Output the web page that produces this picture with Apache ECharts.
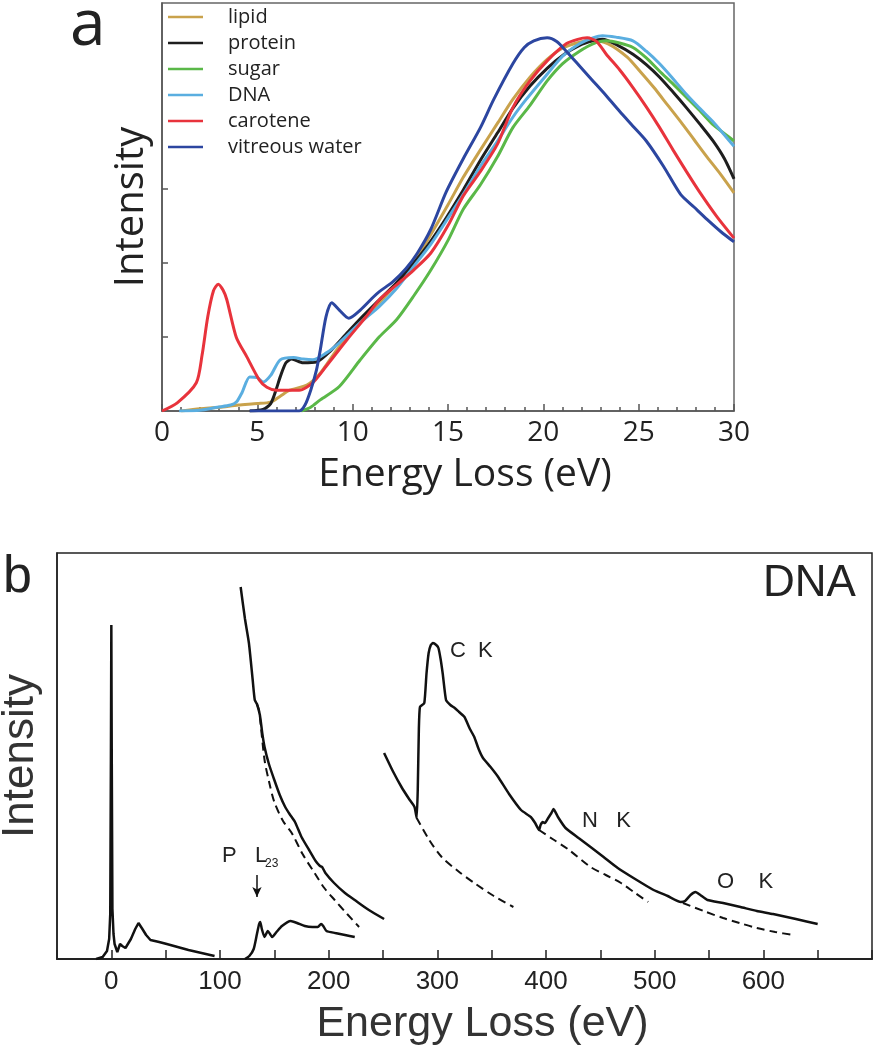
<!DOCTYPE html>
<html>
<head>
<meta charset="utf-8">
<script src="https://cdn.jsdelivr.net/npm/echarts@6/dist/echarts.min.js"></script>
<style>
  html, body { margin: 0; padding: 0; background: #fff; }
  #chart { width: 882px; height: 1050px; }
</style>
</head>
<body>
<div id="chart"></div>
<script>
var myChart = echarts.init(document.getElementById('chart'));

// panel a: low-loss spectra, [energy eV, intensity (tick units)]
var names = ['lipid', 'protein', 'sugar', 'DNA', 'carotene', 'vitreous water'];
var colorsA = ['#c9a24c', '#1e1e1e', '#5ab848', '#5aaee0', '#e8333c', '#2c46a0'];
var lipid = [[1,0],[2,0.03],[3,0.05],[4,0.08],[5,0.1],[5.7,0.12],[6.2,0.2],[6.7,0.28],[7.6,0.35],[8.3,0.51],[9.3,0.87],[10.4,1.19],[11.4,1.46],[12.3,1.72],[13.2,2.0],[14.1,2.38],[15,2.78],[15.8,3.15],[16.7,3.52],[17.6,3.88],[18.4,4.2],[19.3,4.5],[20.2,4.74],[21,4.89],[21.9,4.97],[22.6,5.0],[23.4,4.95],[24.4,4.77],[25.1,4.57],[25.8,4.36],[26.5,4.13],[27.2,3.9],[27.9,3.66],[28.6,3.42],[29.3,3.19],[30,2.94]];
var protein = [[4.6,0],[5.3,0.02],[5.7,0.1],[6.0,0.3],[6.2,0.46],[6.5,0.65],[6.8,0.7],[7.4,0.65],[8.1,0.66],[8.8,0.8],[9.7,1.05],[10.5,1.27],[11.4,1.5],[12.3,1.73],[13.7,2.15],[14.7,2.52],[15.8,2.98],[16.7,3.38],[17.6,3.75],[18.4,4.08],[19.3,4.38],[20.2,4.62],[21.1,4.81],[21.9,4.93],[22.6,4.99],[23.1,5.01],[23.9,4.93],[24.7,4.81],[25.4,4.67],[26.1,4.5],[26.8,4.3],[27.5,4.09],[28.2,3.87],[28.9,3.64],[29.5,3.4],[30,3.13]];
var sugar = [[7.3,0],[7.8,0.05],[8.3,0.15],[9.3,0.33],[10.4,0.69],[11.4,1.0],[12.3,1.23],[13.2,1.55],[14.1,1.9],[15,2.3],[15.8,2.72],[16.7,3.05],[17.6,3.43],[18.4,3.82],[19.3,4.12],[20.2,4.45],[21,4.68],[21.9,4.85],[22.6,4.95],[23.3,4.99],[24,4.96],[24.7,4.9],[25.4,4.76],[26.1,4.58],[26.8,4.41],[27.5,4.23],[28.2,4.05],[28.9,3.86],[29.5,3.74],[30,3.64]];
var dna = [[0.9,0],[2,0.01],[2.9,0.05],[3.6,0.08],[3.9,0.12],[4.2,0.25],[4.6,0.46],[5.0,0.45],[5.3,0.39],[5.7,0.48],[6.2,0.69],[6.9,0.72],[7.4,0.7],[7.9,0.69],[8.6,0.78],[9.3,0.92],[10.4,1.19],[11.4,1.41],[12.3,1.65],[13.2,1.95],[14.1,2.25],[15,2.6],[15.8,2.92],[16.7,3.3],[17.5,3.6],[18.4,3.96],[19.1,4.2],[20.2,4.54],[21,4.78],[21.9,4.95],[22.6,5.03],[23.1,5.06],[23.8,5.04],[24.7,4.99],[25.4,4.85],[26.1,4.68],[26.8,4.48],[27.5,4.27],[28.2,4.08],[28.9,3.9],[29.5,3.72],[30,3.57]];
var carotene = [[0,0],[0.8,0.11],[1.8,0.38],[2.1,0.75],[2.4,1.27],[2.7,1.62],[2.95,1.71],[3.2,1.63],[3.4,1.5],[3.9,0.99],[4.45,0.73],[5.1,0.42],[5.5,0.32],[6,0.28],[7.2,0.28],[7.9,0.38],[8.6,0.6],[9.7,0.96],[10.7,1.27],[11.4,1.5],[12.3,1.7],[13.2,1.9],[14.1,2.13],[15,2.5],[15.8,2.9],[16.7,3.23],[17.6,3.6],[18.4,4.09],[19.3,4.45],[20.2,4.72],[21.2,4.95],[21.8,5.01],[22.3,5.03],[22.8,4.98],[23.3,4.81],[24,4.6],[24.7,4.36],[25.4,4.1],[26.1,3.82],[26.8,3.52],[27.5,3.23],[28.2,2.95],[29.1,2.62],[30,2.33]];
var water = [[4.6,0],[6,0],[7.2,0],[7.5,0.08],[7.8,0.28],[8.1,0.55],[8.3,0.82],[8.6,1.27],[8.9,1.46],[9.3,1.36],[9.8,1.25],[10.4,1.36],[11.1,1.54],[11.4,1.61],[12.1,1.74],[12.8,1.92],[13.4,2.13],[14.1,2.45],[14.9,2.95],[15.8,3.4],[16.7,3.82],[17.4,4.2],[18.4,4.68],[19.0,4.9],[19.5,4.99],[20.2,5.03],[20.7,4.98],[21.2,4.85],[21.9,4.65],[22.6,4.45],[23.3,4.25],[24.0,4.04],[24.7,3.84],[25.4,3.64],[26.3,3.3],[27.2,2.92],[27.9,2.75],[28.6,2.58],[29.3,2.42],[30,2.28]];
var seriesA = [lipid, protein, sugar, dna, carotene, water];

// panel b: DNA core-loss spectrum, [energy eV, intensity]
var lowLoss = [[-14,0],[-8,2],[-4,8],[-2,20],[-1,45],[-0.4,200],[0,334],[0.4,200],[1,50],[2,25],[3,15],[5.5,7],[8,15],[10,13],[13,11],[18,20],[22,30],[25,36],[28,31],[32,24],[36,19],[44,17],[51,15],[61,12],[71,9],[83,6],[95,3]];
var pEdge = [[123,0],[127,3],[131,10],[134,25],[136,35],[137,37],[138.5,30],[141,22],[144,28],[146,25],[148,22],[152,27],[157,33],[165,38],[171,36],[178,33],[185,32],[190,32],[193,35],[195,33],[198,28],[206,26],[215,24],[224,22]];
var pUpper = [[119,372],[123,340],[126.6,316],[130,280],[132,259],[134,255],[136.7,244],[139,225],[141,212],[145,195],[150,179],[155,164],[160,152],[164,145],[169,137],[175,122],[182,109],[188,98],[192,93],[194,92],[197,86],[205,76],[215,66],[224,59],[237,49],[251,40]];
var pBg = [[134,255],[136,248],[141,199],[145,178],[150,157],[158,138],[166,126],[176,105],[187,86],[196,71],[205.5,59],[217,45],[228,32]];
var ckSpec = [[251,206],[259,188],[267,172],[274,160],[279,152],[281,141],[282,170],[283,230],[284,252],[288,256],[290,285],[292,306],[294,314],[296,316],[299,314],[301,311],[303,300],[305,285],[308,259],[312,254],[316,251],[320,247],[325,242],[330,230],[334,222],[338,210],[342,201],[349,192],[356,182],[366,165],[377,149],[386,142],[390,136],[393.6,129],[395,134],[397,137],[399,136],[402,141],[405,146],[407,150],[411,142],[418,131],[430,121],[441,112],[453,102],[466,91],[482,80],[499,69],[512,63],[524,57],[528,58],[533,64],[537.6,67],[542,64],[548.6,59],[563,56],[579,52],[594,48],[609,45],[630,40],[650,35]];
var cBg = [[281,141],[292,120],[304,102],[319,88],[334,76],[352,63],[370,52]];
var nBg = [[393.6,129],[406,120],[420,110],[441,92],[455,84],[469,76],[482,66],[494,57]];
var oBg = [[526,56],[545,48],[563,41],[578,36],[594,31],[611,27],[628,24]];
var bLabels = [0, 100, 200, 300, 400, 500, 600];

var fontA = 'Open Sans';
var fontB = 'Liberation Sans';

var series = seriesA.map(function (d, i) {
    return {
        name: names[i],
        type: 'line',
        xAxisIndex: 0,
        yAxisIndex: 0,
        data: d,
        symbol: 'none',
        smooth: 0.25,
        lineStyle: { color: colorsA[i], width: 3 },
        itemStyle: { color: colorsA[i] },
        silent: true
    };
});

function solidB(d, smooth) {
    return {
        type: 'line', xAxisIndex: 1, yAxisIndex: 1, data: d, symbol: 'none',
        smooth: smooth, silent: true,
        lineStyle: { color: '#111', width: 2.5 }
    };
}
function dashedB(d) {
    return {
        type: 'line', xAxisIndex: 1, yAxisIndex: 1, data: d, symbol: 'none',
        smooth: 0.3, silent: true,
        lineStyle: { color: '#111', width: 2, type: [8, 5] }
    };
}
series.push(solidB(lowLoss, false));
var pEdgeSeries = solidB(pEdge, 0.2);
pEdgeSeries.markLine = {
    silent: true,
    symbol: ['none', 'arrow'],
    symbolSize: [7, 10],
    label: { show: false },
    lineStyle: { color: '#111', width: 1.5, type: 'solid' },
    data: [[{ coord: [134, 84] }, { coord: [134, 62] }]]
};
series.push(pEdgeSeries);
series.push(solidB(pUpper, 0.2));
series.push(solidB(ckSpec, 0.15));
series.push(dashedB(pBg));
series.push(dashedB(cBg));
series.push(dashedB(nBg));
series.push(dashedB(oBg));

var option = {
    backgroundColor: '#fff',
    animation: false,
    legend: {
        orient: 'vertical',
        left: 163,
        top: 2,
        icon: 'rect',
        itemWidth: 35,
        itemHeight: 2.5,
        itemGap: 6,
        data: names,
        textStyle: { fontFamily: fontA, fontSize: 20, color: '#222', padding: [0, 0, 0, 20] }
    },
    grid: [{
        left: 162, right: 148, top: 3, bottom: 639, outerBoundsMode: 'none',
        show: true, borderColor: '#666', borderWidth: 1.5
    }, {
        left: 57, right: 10, top: 553, bottom: 91, outerBoundsMode: 'none',
        show: true, borderColor: '#222', borderWidth: 1.5
    }],
    xAxis: [{
        gridIndex: 0, type: 'value', min: 0, max: 30, interval: 5,
        axisLine: { lineStyle: { color: '#555', width: 1.5 } },
        axisTick: { inside: true, length: 7, lineStyle: { color: '#555', width: 1.5 } },
        minorTick: { show: true, splitNumber: 5, length: 4, lineStyle: { color: '#555', width: 1.5 } },
        splitLine: { show: false },
        axisLabel: { fontFamily: fontA, fontSize: 28, color: '#222', margin: 8 },
        name: 'Energy Loss (eV)', nameLocation: 'middle', nameGap: 44,
        nameTextStyle: { fontFamily: fontA, fontSize: 39, color: '#222', padding: [0, 0, 0, 34] }
    }, {
        gridIndex: 1, type: 'value', min: -50, max: 700, interval: 50,
        axisLine: { onZero: false, lineStyle: { color: '#222', width: 2 } },
        axisTick: { inside: true, length: 9, lineStyle: { color: '#222', width: 1.5 } },
        splitLine: { show: false },
        axisLabel: {
            fontFamily: fontB, fontSize: 26, color: '#222', margin: 10,
            formatter: function (v) { return bLabels.indexOf(v) >= 0 ? String(v) : ''; }
        },
        name: 'Energy Loss (eV)', nameLocation: 'middle', nameGap: 44,
        nameTextStyle: { fontFamily: fontB, fontSize: 43, color: '#333', padding: [0, 0, 0, 36] }
    }],
    yAxis: [{
        gridIndex: 0, type: 'value', min: 0, max: 5.5, interval: 1,
        axisLine: { show: true, onZero: false, lineStyle: { color: '#555', width: 1.5 } },
        axisTick: { show: true, inside: true, length: 6, customValues: [1, 2, 3], lineStyle: { color: '#555', width: 1.5 } },
        splitLine: { show: false },
        axisLabel: { show: false },
        name: 'Intensity', nameLocation: 'middle', nameGap: 10,
        nameTextStyle: { fontFamily: fontA, fontSize: 40, color: '#222' }
    }, {
        gridIndex: 1, type: 'value', min: 0, max: 406,
        axisLine: { show: true, onZero: false, lineStyle: { color: '#222', width: 1.5 } },
        axisTick: { show: false },
        splitLine: { show: false },
        axisLabel: { show: false },
        name: 'Intensity', nameLocation: 'middle', nameGap: 14,
        nameTextStyle: { fontFamily: fontB, fontSize: 44, color: '#333' }
    }],
    graphic: [
        { type: 'text', left: 70, top: -5, style: { text: 'a', font: '64px "Open Sans"', fill: '#222' } },
        { type: 'text', left: 3, top: 552, style: { text: 'b', font: '52px "Liberation Sans"', fill: '#222' } },
        { type: 'text', left: 763, top: 562, style: { text: 'DNA', font: '44px "Liberation Sans"', fill: '#222' } },
        { type: 'text', left: 450, top: 640, style: { text: 'C  K', font: '22px "Liberation Sans"', fill: '#222' } },
        { type: 'text', left: 582, top: 810, style: { text: 'N   K', font: '22px "Liberation Sans"', fill: '#222' } },
        { type: 'text', left: 717, top: 871, style: { text: 'O    K', font: '22px "Liberation Sans"', fill: '#222' } },
        { type: 'text', left: 222, top: 845, style: { text: 'P   L', font: '22px "Liberation Sans"', fill: '#222' } },
        { type: 'text', left: 265, top: 858, style: { text: '23', font: '12px "Liberation Sans"', fill: '#222' } }
    ],
    series: series
};

myChart.setOption(option);
</script>
</body>
</html>
